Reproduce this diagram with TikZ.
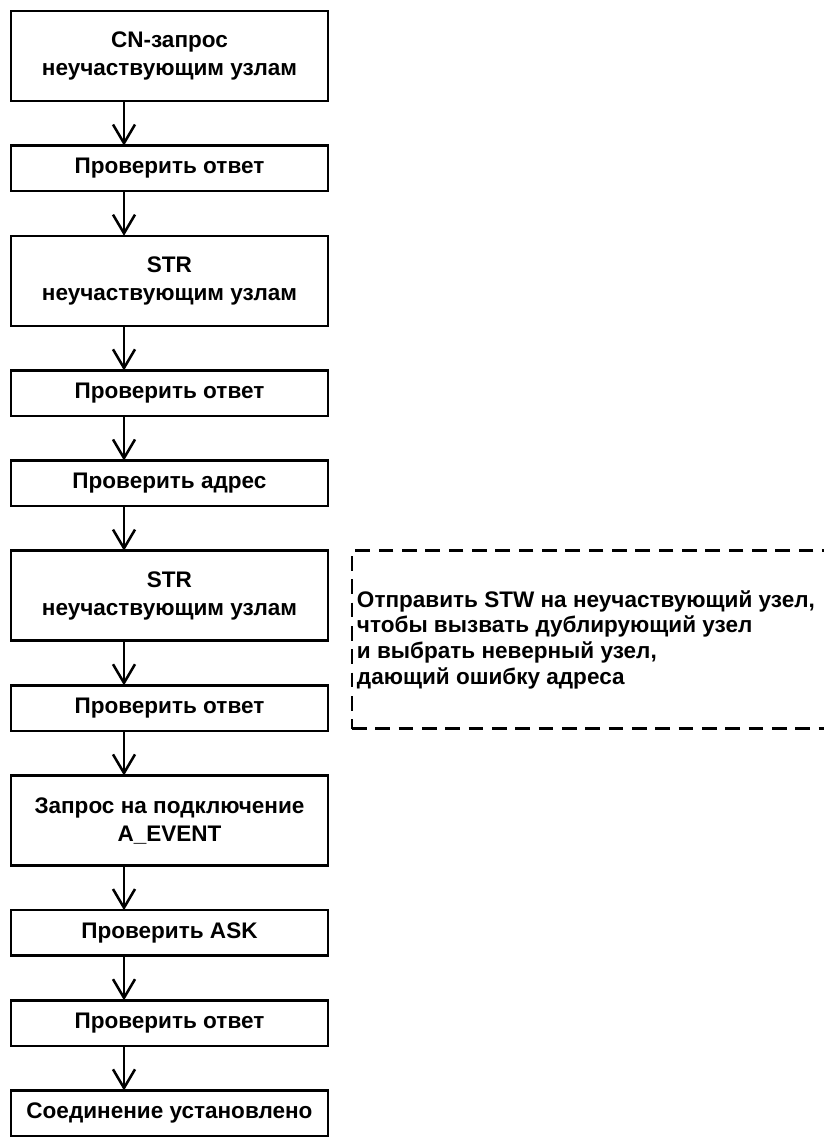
\documentclass[tikz,border=0pt]{standalone}
\usepackage{fontspec}
\setmainfont{Liberation Sans}
\usetikzlibrary{arrows.meta,positioning}

\begin{document}
\begin{tikzpicture}[
            node distance=33.5pt,
            box/.style={
                    draw=black,
                    fill=white,
                    rectangle,
                    line width=1.9pt,
                    outer sep=0pt,
                    minimum width=237.75pt,
                    minimum height=34.1pt,
                    align=center,
                    font=\fontsize{16.9}{21}\selectfont\bfseries
                },
            tallbox/.style={
                    box,
                    minimum height=67.5pt
                },
            note/.style={
                    draw=black,
                    rectangle,
                    dash pattern=on 11pt off 6.5pt,
                    line width=1.9pt,
                    outer sep=0pt,
                    inner xsep=3.75pt,
                    text width=352.5pt,
                    minimum height=133.5pt,
                    align=flush left,
                    font=\fontsize{16.9}{19.3}\selectfont\bfseries
                },
            arrow/.style={
            -{Straight Barb[length=14pt,width=16.5pt]},
            line width=1.9pt
            }
            ]
            \useasboundingbox (0,0) rectangle (618pt,-855pt);
            \coordinate (axis) at (93pt,0);

            % 1. CN-запрос
            \node[tallbox, anchor=north] (cnRequest) at (127.1pt,-8.25pt) {
                CN-запрос\\неучаствующим узлам
            };

            % 2. Проверка ответа
            \node[box, below=of cnRequest] (checkReply1) {Проверить ответ};

            % 3. STR (первый)
            \node[tallbox, below=of checkReply1] (strRequest1) {
                STR\\неучаствующим узлам
            };

            % 4. Проверка ответа и адреса
            \node[box, below=of strRequest1] (checkReply2) {Проверить ответ};
            \node[box, below=of checkReply2] (checkAddress) {Проверить адрес};

            % 5. STR (второй)
            \node[tallbox, below=of checkAddress] (strRequest2) {
                STR\\неучаствующим узлам
            };

            % 6. Проверка ответа
            \node[box, below=of strRequest2] (checkReply3) {Проверить ответ};

            % 7. Запрос на подключение
            \node[tallbox, below=of checkReply3] (connRequest) {
                Запрос на подключение\\A\_EVENT
            };

            % 8. Проверка ASK и ответа
            \node[box, below=of connRequest] (checkAsk) {Проверить ASK};
            \node[box, below=of checkAsk] (checkReply4) {Проверить ответ};

            % 9. Соединение установлено
            \node[box, below=of checkReply4] (connDone) {Соединение установлено};

            % Пояснение (пунктир, правый край за полем рисунка)
            \node[note, anchor=north west] (stwNote) at ([xshift=18pt]strRequest2.north east) {
                Отправить STW на неучаствующий узел,\\
                чтобы вызвать дублирующий узел\\
                и выбрать неверный узел,\\
                дающий ошибку адреса
            };

            % --- СТРЕЛКИ ---
            \draw[arrow] (cnRequest.south -| axis) -- (checkReply1.north -| axis);
            \draw[arrow] (checkReply1.south -| axis) -- (strRequest1.north -| axis);
            \draw[arrow] (strRequest1.south -| axis) -- (checkReply2.north -| axis);
            \draw[arrow] (checkReply2.south -| axis) -- (checkAddress.north -| axis);
            \draw[arrow] (checkAddress.south -| axis) -- (strRequest2.north -| axis);
            \draw[arrow] (strRequest2.south -| axis) -- (checkReply3.north -| axis);
            \draw[arrow] (checkReply3.south -| axis) -- (connRequest.north -| axis);
            \draw[arrow] (connRequest.south -| axis) -- (checkAsk.north -| axis);
            \draw[arrow] (checkAsk.south -| axis) -- (checkReply4.north -| axis);
            \draw[arrow] (checkReply4.south -| axis) -- (connDone.north -| axis);

        \end{tikzpicture}
\end{document}
